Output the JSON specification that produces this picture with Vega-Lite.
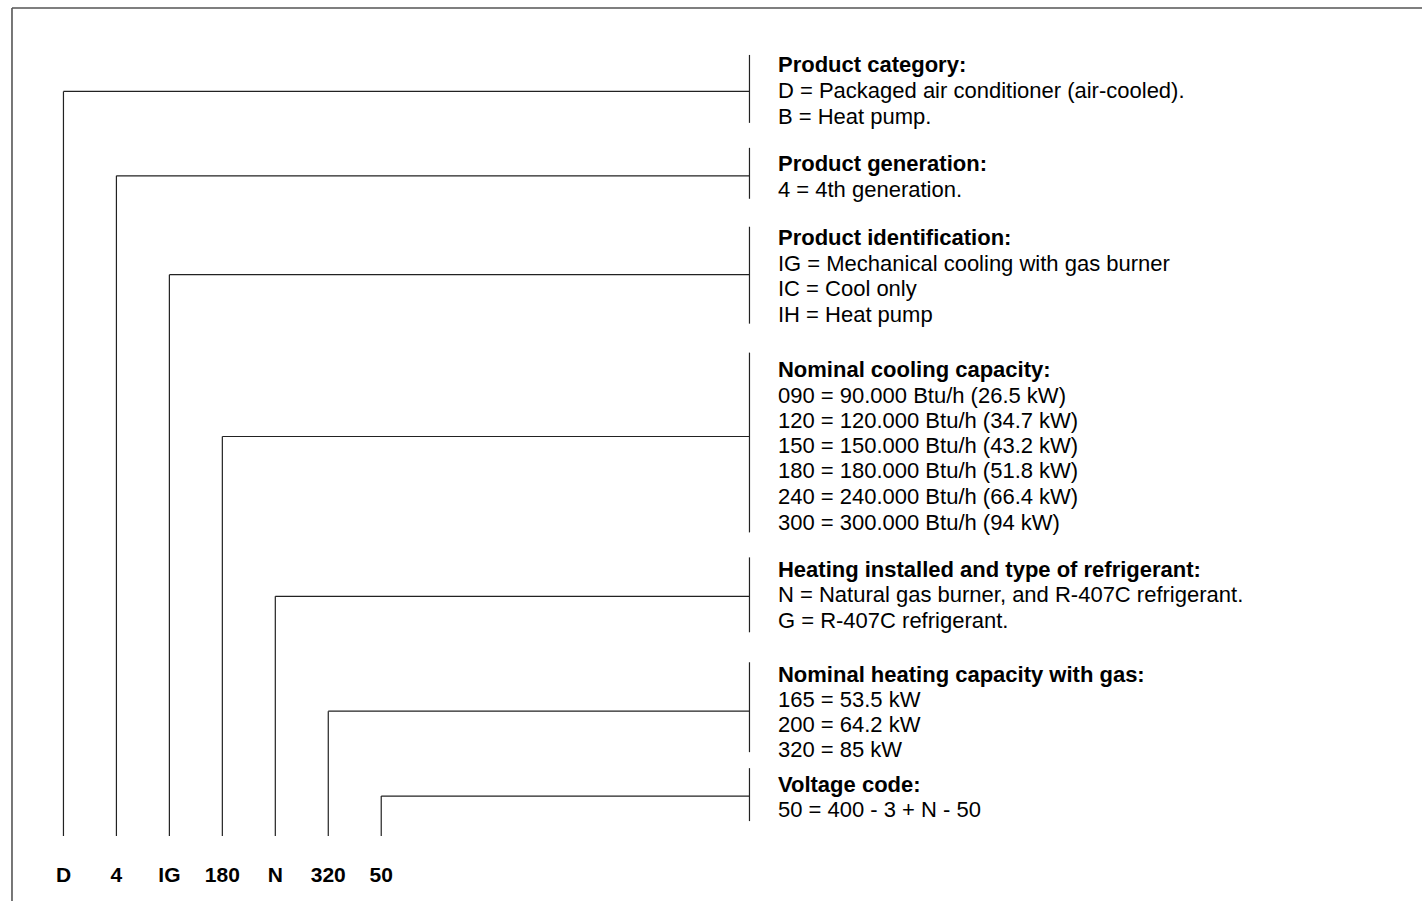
{
  "$schema": "https://vega.github.io/schema/vega-lite/v6.json",
  "width": 1423,
  "height": 902,
  "padding": 0,
  "autosize": {"type": "fit", "contains": "padding"},
  "background": "white",
  "config": {"view": {"stroke": null}},
  "datasets": {
    "frame": [
      {"x": 12, "x2": 1423, "y": 8, "y2": 8},
      {"x": 12, "x2": 12, "y": 8, "y2": 902}
    ],
    "codes": [
      {"code": "D", "x": 63.5, "yh": 91.5, "ybot": 837, "xb": 750, "ylab": 883},
      {"code": "4", "x": 116.5, "yh": 176, "ybot": 837, "xb": 750, "ylab": 883},
      {"code": "IG", "x": 169.5, "yh": 275, "ybot": 837, "xb": 750, "ylab": 883},
      {"code": "180", "x": 222.5, "yh": 437, "ybot": 837, "xb": 750, "ylab": 883},
      {"code": "N", "x": 275.5, "yh": 597, "ybot": 837, "xb": 750, "ylab": 883},
      {"code": "320", "x": 328.5, "yh": 712, "ybot": 837, "xb": 750, "ylab": 883},
      {"code": "50", "x": 381.5, "yh": 797, "ybot": 837, "xb": 750, "ylab": 883}
    ],
    "brackets": [
      {"group": 1, "x": 750, "y0": 55, "y1": 123},
      {"group": 2, "x": 750, "y0": 148, "y1": 199},
      {"group": 3, "x": 750, "y0": 227, "y1": 324},
      {"group": 4, "x": 750, "y0": 353, "y1": 533},
      {"group": 5, "x": 750, "y0": 558, "y1": 633},
      {"group": 6, "x": 750, "y0": 663, "y1": 753},
      {"group": 7, "x": 750, "y0": 769, "y1": 822}
    ],
    "labels": [
      {"group": 1, "kind": "head", "x": 778.5, "y": 72, "text": "Product category:"},
      {"group": 1, "kind": "body", "x": 778.5, "y": 98, "text": "D = Packaged air conditioner (air-cooled)."},
      {"group": 1, "kind": "body", "x": 778.5, "y": 124, "text": "B = Heat pump."},
      {"group": 2, "kind": "head", "x": 778.5, "y": 171, "text": "Product generation:"},
      {"group": 2, "kind": "body", "x": 778.5, "y": 197, "text": "4 = 4th generation."},
      {"group": 3, "kind": "head", "x": 778.5, "y": 245, "text": "Product identification:"},
      {"group": 3, "kind": "body", "x": 778.5, "y": 271, "text": "IG = Mechanical cooling with gas burner"},
      {"group": 3, "kind": "body", "x": 778.5, "y": 296, "text": "IC = Cool only"},
      {"group": 3, "kind": "body", "x": 778.5, "y": 322, "text": "IH = Heat pump"},
      {"group": 4, "kind": "head", "x": 778.5, "y": 377, "text": "Nominal cooling capacity:"},
      {"group": 4, "kind": "body", "x": 778.5, "y": 403, "text": "090 = 90.000 Btu/h (26.5 kW)"},
      {"group": 4, "kind": "body", "x": 778.5, "y": 428, "text": "120 = 120.000 Btu/h (34.7 kW)"},
      {"group": 4, "kind": "body", "x": 778.5, "y": 454, "text": "150 = 150.000 Btu/h (43.2 kW)"},
      {"group": 4, "kind": "body", "x": 778.5, "y": 479, "text": "180 = 180.000 Btu/h (51.8 kW)"},
      {"group": 4, "kind": "body", "x": 778.5, "y": 505, "text": "240 = 240.000 Btu/h (66.4 kW)"},
      {"group": 4, "kind": "body", "x": 778.5, "y": 531, "text": "300 = 300.000 Btu/h (94 kW)"},
      {"group": 5, "kind": "head", "x": 778.5, "y": 578, "text": "Heating installed and type of refrigerant:"},
      {"group": 5, "kind": "body", "x": 778.5, "y": 603, "text": "N = Natural gas burner, and R-407C refrigerant."},
      {"group": 5, "kind": "body", "x": 778.5, "y": 629, "text": "G = R-407C refrigerant."},
      {"group": 6, "kind": "head", "x": 778.5, "y": 683, "text": "Nominal heating capacity with gas:"},
      {"group": 6, "kind": "body", "x": 778.5, "y": 708, "text": "165 = 53.5 kW"},
      {"group": 6, "kind": "body", "x": 778.5, "y": 733, "text": "200 = 64.2 kW"},
      {"group": 6, "kind": "body", "x": 778.5, "y": 758, "text": "320 = 85 kW"},
      {"group": 7, "kind": "head", "x": 778.5, "y": 793, "text": "Voltage code:"},
      {"group": 7, "kind": "body", "x": 778.5, "y": 818, "text": "50 = 400 - 3 + N - 50"}
    ]
  },
  "layer": [
    {
      "data": {"name": "frame"},
      "mark": {"type": "rule", "stroke": "#555555", "strokeWidth": 1.6},
      "encoding": {
        "x": {"field": "x", "type": "quantitative", "scale": {"domain": [0, 1423], "nice": false, "zero": false}, "axis": null},
        "x2": {"field": "x2"},
        "y": {"field": "y", "type": "quantitative", "scale": {"domain": [0, 902], "nice": false, "zero": false, "reverse": true}, "axis": null},
        "y2": {"field": "y2"}
      }
    },
    {
      "data": {"name": "codes"},
      "mark": {"type": "rule", "stroke": "#222222", "strokeWidth": 1.2},
      "encoding": {
        "x": {"field": "x", "type": "quantitative", "axis": null},
        "y": {"field": "yh", "type": "quantitative", "axis": null},
        "y2": {"field": "ybot"}
      }
    },
    {
      "data": {"name": "codes"},
      "mark": {"type": "rule", "stroke": "#222222", "strokeWidth": 1.2},
      "encoding": {
        "x": {"field": "x", "type": "quantitative", "axis": null},
        "x2": {"field": "xb"},
        "y": {"field": "yh", "type": "quantitative", "axis": null}
      }
    },
    {
      "data": {"name": "brackets"},
      "mark": {"type": "rule", "stroke": "#222222", "strokeWidth": 1.2},
      "encoding": {
        "x": {"field": "x", "type": "quantitative", "axis": null},
        "y": {"field": "y0", "type": "quantitative", "axis": null},
        "y2": {"field": "y1"}
      }
    },
    {
      "data": {"name": "codes"},
      "mark": {"type": "text", "font": "Liberation Sans", "fontSize": 21, "fontWeight": "bold", "align": "center", "baseline": "alphabetic", "fill": "#000000"},
      "encoding": {
        "x": {"field": "x", "type": "quantitative", "axis": null},
        "y": {"field": "ylab", "type": "quantitative", "axis": null},
        "text": {"field": "code"}
      }
    },
    {
      "data": {"name": "labels"},
      "transform": [{"filter": "datum.kind === 'head'"}],
      "mark": {"type": "text", "font": "Liberation Sans", "fontSize": 22, "fontWeight": "bold", "align": "left", "baseline": "alphabetic", "fill": "#000000"},
      "encoding": {
        "x": {"field": "x", "type": "quantitative", "axis": null},
        "y": {"field": "y", "type": "quantitative", "axis": null},
        "text": {"field": "text"}
      }
    },
    {
      "data": {"name": "labels"},
      "transform": [{"filter": "datum.kind === 'body'"}],
      "mark": {"type": "text", "font": "Liberation Sans", "fontSize": 22, "align": "left", "baseline": "alphabetic", "fill": "#000000"},
      "encoding": {
        "x": {"field": "x", "type": "quantitative", "axis": null},
        "y": {"field": "y", "type": "quantitative", "axis": null},
        "text": {"field": "text"}
      }
    }
  ]
}
